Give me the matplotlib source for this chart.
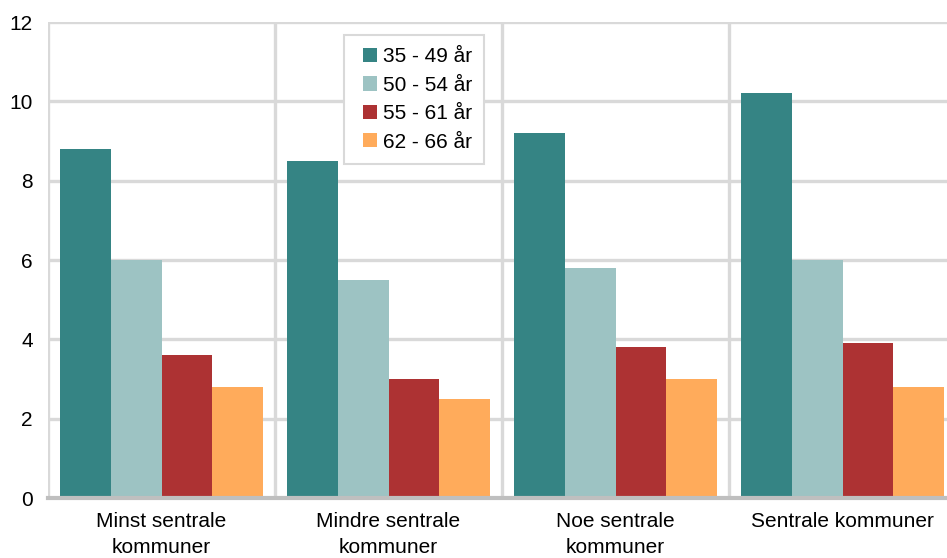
import numpy as np
import matplotlib
matplotlib.use("Agg")
import matplotlib.pyplot as plt
from matplotlib.patches import Rectangle
from matplotlib.container import BarContainer
from matplotlib.legend_handler import HandlerPatch

plt.rcParams['font.family'] = ['Liberation Sans', 'DejaVu Sans']

kategorier = ["Minst sentrale\nkommuner", "Mindre sentrale\nkommuner", "Noe sentrale\nkommuner", "Sentrale kommuner"]
aldersgrupper = ["35 - 49 år", "50 - 54 år", "55 - 61 år", "62 - 66 år"]
v_35_49 = [8.8, 8.5, 9.2, 10.2]
v_50_54 = [6.0, 5.5, 5.8, 6.0]
v_55_61 = [3.6, 3.0, 3.8, 3.9]
v_62_66 = [2.8, 2.5, 3.0, 2.8]
farger = ["#358484", "#9dc3c3", "#ad3233", "#ffab5b"]

serier = [v_35_49, v_50_54, v_55_61, v_62_66]


# kvadratisk markør, skjøvet mot høyre i handle-boksen
def firkant(legend, orig_handle, xdescent, ydescent, width, height, fontsize):
    s = height
    return Rectangle((width - s - xdescent, -ydescent), s, s)


def farge_fra_stolpe(legend_handle, orig_handle):
    legend_handle.update_from(orig_handle.patches[0])


fig = plt.figure(figsize=(9.47, 5.58), dpi=100)
ax = fig.add_axes([48 / 947, 60 / 558, 908 / 947, 476 / 558])

x = np.arange(len(kategorier))
w = 0.2225
for i, (verdier, navn) in enumerate(zip(serier, aldersgrupper)):
    ax.bar(x + (i - 1.5) * w, verdier, width=w, color=farger[i], label=navn, zorder=3)

ax.set_xlim(-0.5, len(kategorier) - 0.5)
ax.set_ylim(0, 12)
ax.set_yticks(range(0, 13, 2))
ax.set_xticks(x)
ax.set_xticklabels(kategorier, fontsize=15, linespacing=1.45)
ax.set_xticks(np.arange(-0.5, len(kategorier), 1), minor=True)
ax.tick_params(axis='y', labelsize=15, length=0, pad=11)
ax.tick_params(axis='x', which='both', length=0, pad=10)

ax.grid(axis='y', color='#d9d9d9', linewidth=2.4, zorder=0)
ax.grid(axis='x', which='minor', color='#d9d9d9', linewidth=2.4, zorder=0)
ax.grid(axis='x', which='major', visible=False)

for side in ['top', 'right', 'left']:
    ax.spines[side].set_visible(False)
ax.spines['bottom'].set_color('#bfbfbf')
ax.spines['bottom'].set_linewidth(3)
ax.spines['bottom'].set_zorder(4)

leg = ax.legend(loc='upper left', bbox_to_anchor=(296 / 908, 1 - 13 / 476), fontsize=15,
                frameon=True, fancybox=False, edgecolor='#d9d9d9', framealpha=1,
                handlelength=1.0, handleheight=0.67, handletextpad=0.25,
                labelspacing=0.45, borderpad=0.6, borderaxespad=0,
                handler_map={BarContainer: HandlerPatch(patch_func=firkant,
                                                        update_func=farge_fra_stolpe)})
leg.get_frame().set_linewidth(1.5)
leg.set_zorder(5)

fig.savefig("out.png", dpi=100)
